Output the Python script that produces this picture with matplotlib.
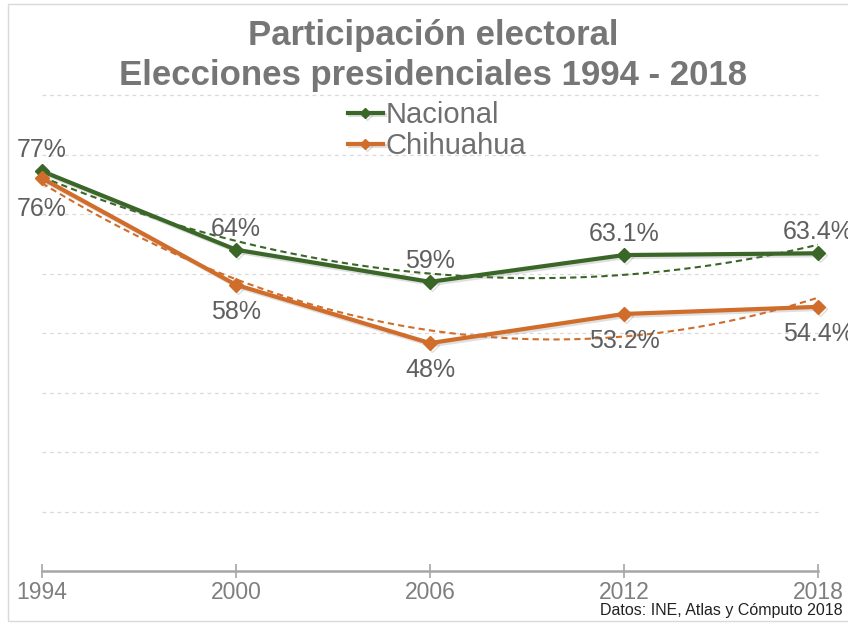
import numpy as np
import matplotlib
matplotlib.use("Agg")
import matplotlib.pyplot as plt
import matplotlib.patheffects as pe
from matplotlib.patches import Rectangle

plt.rcParams['font.family'] = ['Liberation Sans', 'DejaVu Sans']

# data
years = [1994, 2000, 2006, 2012, 2018]
nacional = [77.2, 64.0, 58.6, 63.1, 63.4]
chihuahua = [76.0, 58.1, 48.3, 53.2, 54.4]
nacional_labels = ["77%", "64%", "59%", "63.1%", "63.4%"]
chihuahua_labels = ["76%", "58%", "48%", "53.2%", "54.4%"]

title = "Participación electoral\nElecciones presidenciales 1994 - 2018"
source = "Datos: INE, Atlas y Cómputo 2018"

green = '#3A6627'
orange = '#D06D2B'
gray_text = '#5f5f5f'

fig = plt.figure(figsize=(8.48, 6.23), dpi=100)
ax = fig.add_axes([42 / 848, 1 - 571 / 623, 776 / 848, 476 / 623])

# gridlines
for g in range(20, 91, 10):
    ax.axhline(g, color='#d9d9d9', lw=0.9, dashes=(3, 3), zorder=0, clip_on=False)

shadow = [pe.SimpleLineShadow(offset=(1.5, -1.5), alpha=0.25, shadow_color='gray'), pe.Normal()]

xs = np.linspace(years[0], years[-1], 200)
for vals, col, name in [(nacional, green, "Nacional"), (chihuahua, orange, "Chihuahua")]:
    # Excel-like polynomial (order 2) trendline
    coef = np.polyfit(np.arange(len(years)), vals, 2)
    trend = np.polyval(coef, (xs - years[0]) / 6.0)
    ax.plot(xs, trend, color=col, lw=1.5, dashes=(3, 2), zorder=2)
    ax.plot(years, vals, color=col, lw=3, marker='D', markersize=7,
            label=name, zorder=3, path_effects=shadow, clip_on=False)

for x, v, t in zip(years, nacional, nacional_labels):
    ax.annotate(t, (x, v), xytext=(0, 15), textcoords='offset points',
                ha='center', va='center', fontsize=18, color=gray_text, zorder=5)
for x, v, t in zip(years, chihuahua, chihuahua_labels):
    dy = -22 if x == years[0] else -19.5
    ax.annotate(t, (x, v), xytext=(0, dy), textcoords='offset points',
                ha='center', va='center', fontsize=18, color=gray_text, zorder=5)

ax.set_xlim(years[0], years[-1])
ax.set_ylim(10, 90)
ax.set_yticks([])
ax.set_xticks(years)
ax.set_xticklabels([str(y) for y in years])
for s in ['left', 'right', 'top']:
    ax.spines[s].set_visible(False)
ax.spines['bottom'].set_color('#a6a6a6')
ax.spines['bottom'].set_linewidth(1.8)
ax.tick_params(axis='x', direction='inout', length=10, width=1.2, color='#a6a6a6',
               labelsize=16.5, labelcolor='#7f7f7f', pad=2)
ax.patch.set_alpha(0)

leg = fig.legend(loc='center', bbox_to_anchor=(437 / 848, 1 - 130.5 / 623), frameon=False,
                 fontsize=21, handlelength=1.2, handletextpad=0.1, labelspacing=0.1,
                 borderpad=0, markerscale=0.7)
for t in leg.get_texts():
    t.set_color('#6f6f6f')

fig.text(0.511, 0.969, title, ha='center', va='top', fontsize=25, fontweight='bold',
         color='#767676', linespacing=1.25)
fig.text(843 / 848, 1 - 611 / 623, source, ha='right', va='center', fontsize=11.5, color='#222222')

fig.patches.append(Rectangle((8 / 848, 1 - 621 / 623), 1.0, 617 / 623, transform=fig.transFigure,
                             fill=False, edgecolor='#d9d9d9', lw=1))

fig.savefig("out.png", dpi=100)
